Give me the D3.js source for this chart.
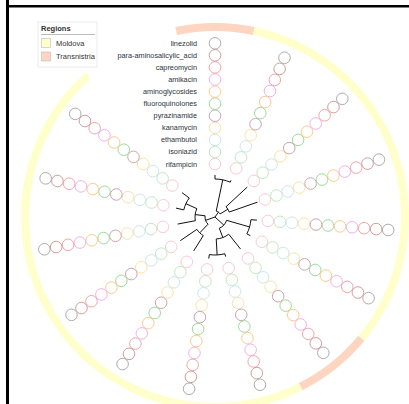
<!DOCTYPE html>
<html>
<head>
<meta charset="utf-8">
<script src="https://cdn.jsdelivr.net/npm/d3@7"></script>
<style>
  html, body { margin: 0; padding: 0; background: #fff; }
  svg { display: block; font-family: "Liberation Sans", Arial, sans-serif; }
</style>
</head>
<body>
<svg id="chart" width="409" height="404"></svg>
<script>
// Drugs, from the innermost ring of circles to the outermost
const drugs = ["rifampicin", "isoniazid", "ethambutol", "kanamycin", "pyrazinamide",
  "fluoroquinolones", "aminoglycosides", "amikacin", "capreomycin",
  "para-aminosalicylic_acid", "linezolid"];
const drugColors = ["#fcc9d2", "#bfeabf", "#cbe6f0", "#fde3a0", "#cfa3ad",
  "#98dc98", "#ffc98a", "#efb0ef", "#f6a3a3", "#d49c9c", "#acacac"];

// Phylogeny: node ids, their parents and branch lengths
const nodeIds =      ["root", "nA", "n12", "s1", "s2", "n34", "s3", "s4",
  "nB", "n56", "s5", "s6", "n789", "s7", "n89", "s8", "s9",
  "nC", "n1011", "s10", "s11", "n1214", "s12", "n1314", "s13", "s14"];
const nodeParents =  ["", "root", "nA", "n12", "n12", "nA", "n34", "n34",
  "root", "nB", "n56", "n56", "nB", "n789", "n789", "n89", "n89",
  "root", "nC", "n1011", "n1011", "nC", "n1214", "n1214", "n1314", "n1314"];
const branchLengths = [0, 6, 32, 4, 2, 9, 29, 30,
  12, 24, 6, 4, 10, 19, 16, 3, 4,
  10, 12, 18, 20, 10, 18, 12, 8, 9];

// Isolate regions, in leaf order
const leafIds = ["s1", "s2", "s3", "s4", "s5", "s6", "s7", "s8", "s9", "s10", "s11", "s12", "s13", "s14"];
const leafRegions = ["Transnistria", "Moldova", "Moldova", "Moldova", "Moldova", "Moldova",
  "Transnistria", "Moldova", "Moldova", "Moldova", "Moldova", "Moldova", "Moldova", "Moldova"];
const regionNames = ["Moldova", "Transnistria"];
const regionColors = ["#ffffcc", "#fdd5c0"];

const svg = d3.select("#chart");
const cx = 215, cy = 217;
const g = svg.append("g");

// Frame lines
svg.append("rect").attr("x", 6).attr("y", 0).attr("width", 3).attr("height", 404).attr("fill", "#000");
svg.append("rect").attr("x", 6).attr("y", 5).attr("width", 403).attr("height", 2.5).attr("fill", "#000");

// Tree layout
const table = nodeIds.map((id, i) => ({ id, parent: nodeParents[i] || null, length: branchLengths[i] }));
const root = d3.stratify().id(d => d.id).parentId(d => d.parent)(table);
const spanDeg = 330;
const nLeaves = leafIds.length;
const stepRad = (spanDeg / nLeaves) * Math.PI / 180;
d3.cluster().size([spanDeg * Math.PI / 180, 1]).separation(() => 1)(root);
root.each(d => {
  d.angle = d.x - stepRad / 2;
  d.dist = (d.parent ? d.parent.dist : 0) + d.data.length;
});
const maxDist = d3.max(root.leaves(), d => d.dist);
const rTree = d3.scaleLinear().domain([0, maxDist]).range([0, 45]);

const pt = (a, r) => [cx + r * Math.sin(a), cy - r * Math.cos(a)];

// Region ring
const regionColor = d3.scaleOrdinal().domain(regionNames).range(regionColors);
const leafByid = new Map(root.leaves().map(d => [d.id, d]));
const arc = d3.arc().innerRadius(186).outerRadius(194);
g.selectAll("path.region").data(leafIds).join("path")
  .attr("class", "region")
  .attr("transform", `translate(${cx},${cy})`)
  .attr("d", id => {
    const a = leafByid.get(id).angle;
    return arc({ startAngle: a - stepRad / 2, endAngle: a + stepRad / 2 });
  })
  .attr("fill", (id, i) => regionColor(leafRegions[i]));

// Tree branches (radial elbow links)
g.selectAll("path.link").data(root.links()).join("path")
  .attr("class", "link")
  .attr("fill", "none")
  .attr("stroke", "#111")
  .attr("stroke-width", 1)
  .attr("d", l => {
    const a0 = l.source.angle, r0 = rTree(l.source.dist);
    const a1 = l.target.angle, r1 = rTree(l.target.dist);
    const p0 = pt(a0, r0), p1 = pt(a1, r0), p2 = pt(a1, r1);
    if (r0 === 0) return `M${cx},${cy}L${p2[0]},${p2[1]}`;
    const sweep = a1 > a0 ? 1 : 0;
    return `M${p0[0]},${p0[1]}A${r0},${r0} 0 0 ${sweep} ${p1[0]},${p1[1]}L${p2[0]},${p2[1]}`;
  });

// Drug circles along each leaf ray
const rDrug = d3.scaleLinear().domain([0, drugs.length - 1]).range([53, 173.7]);
const drugColor = d3.scaleOrdinal().domain(drugs).range(drugColors);
const cells = [];
leafIds.forEach(id => drugs.forEach((drug, j) => cells.push({ id, drug, j })));
g.selectAll("circle.drug").data(cells).join("circle")
  .attr("class", "drug")
  .attr("cx", d => pt(leafByid.get(d.id).angle, rDrug(d.j))[0])
  .attr("cy", d => pt(leafByid.get(d.id).angle, rDrug(d.j))[1])
  .attr("r", 5.8)
  .attr("fill", "none")
  .attr("stroke", d => drugColor(d.drug))
  .attr("stroke-width", 1);

// Drug labels beside the first ray
const firstAngle = leafByid.get(leafIds[0]).angle;
g.selectAll("text.drug").data(drugs).join("text")
  .attr("class", "drug")
  .attr("x", (d, j) => pt(firstAngle, rDrug(j))[0] - 18)
  .attr("y", (d, j) => pt(firstAngle, rDrug(j))[1])
  .attr("dy", "0.35em")
  .attr("text-anchor", "end")
  .attr("font-size", 7.3)
  .attr("fill", "#2b3340")
  .text(d => d);

// Legend
const lg = svg.append("g").attr("transform", "translate(38,22)");
lg.append("rect").attr("width", 59).attr("height", 45)
  .attr("fill", "#fff").attr("stroke", "#e6e6e6").attr("stroke-width", 0.8);
lg.append("text").attr("x", 3).attr("y", 8.5).attr("font-size", 7.5)
  .attr("font-weight", "bold").attr("fill", "#333").text("Regions");
lg.append("line").attr("x1", 3).attr("x2", 57).attr("y1", 12.5).attr("y2", 12.5)
  .attr("stroke", "#aaa").attr("stroke-width", 0.8);
const items = lg.selectAll("g.item").data(regionNames).join("g")
  .attr("class", "item")
  .attr("transform", (d, i) => `translate(3.5,${16.5 + i * 13.5})`);
items.append("rect").attr("width", 9).attr("height", 9)
  .attr("fill", d => regionColor(d)).attr("stroke", "#bbb").attr("stroke-width", 0.6);
items.append("text").attr("x", 14.5).attr("y", 4.8).attr("dy", "0.35em")
  .attr("font-size", 7.5).attr("fill", "#333").text(d => d);
</script>
</body>
</html>
